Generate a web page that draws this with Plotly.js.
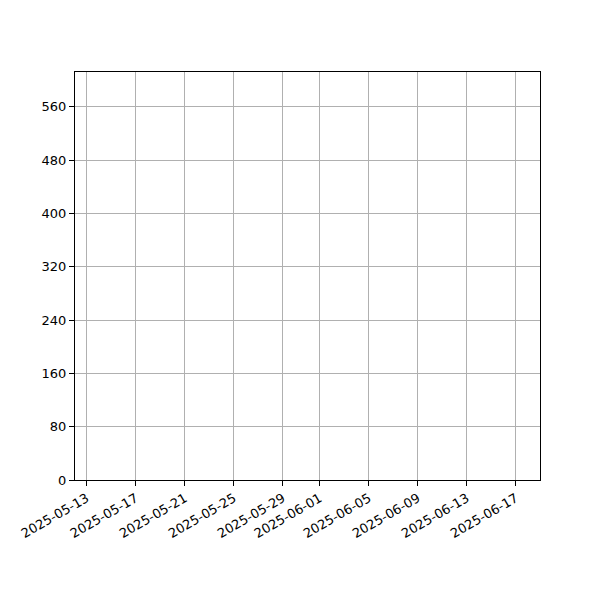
<!DOCTYPE html>
<html>
<head>
<meta charset="utf-8">
<script src="https://cdn.plot.ly/plotly-3.0.1.min.js"></script>
<style>
  html, body { margin: 0; padding: 0; background: #fff; }
  #chart { width: 600px; height: 600px; }
</style>
</head>
<body>
<div id="chart"></div>
<script>
'use strict';

// the source chart has no visible marks, only its axes
var dates = [];
var values = [];

var dateTicks = ['2025-05-13', '2025-05-17', '2025-05-21', '2025-05-25', '2025-05-29',
                 '2025-06-01', '2025-06-05', '2025-06-09', '2025-06-13', '2025-06-17'];
var valueTicks = [0, 80, 160, 240, 320, 400, 480, 560];

var xRange = ['2025-05-12 01:00', '2025-06-18 23:00'];
var yRange = [0, 612];

var axisFont = { family: 'DejaVu Sans', size: 13, color: '#000' };

var trace = {
    x: dates,
    y: values,
    type: 'scatter',
    mode: 'lines',
    line: { color: '#1f77b4' },
    showlegend: false
};

var layout = {
    width: 600,
    height: 600,
    margin: { l: 75, r: 60, t: 72, b: 120 },
    paper_bgcolor: '#fff',
    plot_bgcolor: '#fff',
    font: axisFont,
    xaxis: {
        type: 'date',
        range: xRange,
        tickmode: 'array',
        tickvals: dateTicks,
        ticktext: dateTicks,
        tickangle: -30,
        ticks: 'outside',
        ticklen: 5,
        tickcolor: '#000',
        tickfont: axisFont,
        showgrid: true,
        gridcolor: '#b0b0b0',
        gridwidth: 1,
        showline: true,
        linecolor: '#000',
        linewidth: 1,
        mirror: true,
        zeroline: false
    },
    yaxis: {
        range: yRange,
        tickmode: 'array',
        tickvals: valueTicks,
        ticktext: valueTicks.map(String),
        ticks: 'outside',
        ticklen: 5,
        tickcolor: '#000',
        tickfont: axisFont,
        showgrid: true,
        gridcolor: '#b0b0b0',
        gridwidth: 1,
        showline: true,
        linecolor: '#000',
        linewidth: 1,
        mirror: true,
        zeroline: false
    }
};

Plotly.newPlot('chart', [trace], layout, { displayModeBar: false, staticPlot: true });
</script>
</body>
</html>
